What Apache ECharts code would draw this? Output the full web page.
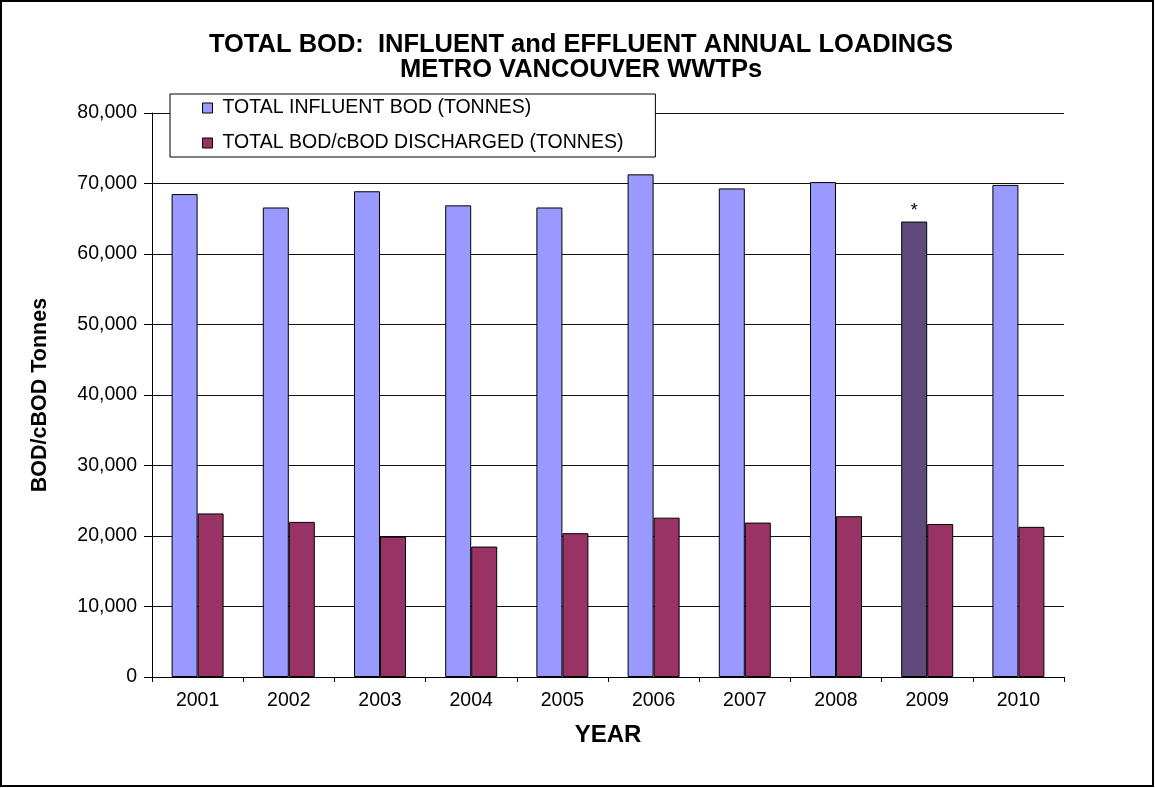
<!DOCTYPE html>
<html>
<head>
<meta charset="utf-8">
<title>Total BOD loadings</title>
<script src="https://cdn.jsdelivr.net/npm/echarts@6/dist/echarts.min.js"></script>
<style>
  html, body { margin: 0; padding: 0; background: #fff; }
  #chart { width: 1155px; height: 788px; }
</style>
</head>
<body>
<div id="chart"></div>
<script>
// values
var years = ['2001', '2002', '2003', '2004', '2005', '2006', '2007', '2008', '2009', '2010'];
var influent = [68500, 66600, 68900, 66900, 66600, 71300, 69300, 70200, 64600, 69800];
var discharged = [23200, 22000, 19900, 18500, 20400, 22600, 21900, 22800, 21700, 21300];
var flaggedYear = '2009';

var FONT = 'Liberation Sans, Arial, sans-serif';

var influentData = influent.map(function (v, i) {
  if (years[i] !== flaggedYear) return v;
  return {
    value: v,
    itemStyle: { color: '#604A7B' },
    label: { show: true, position: 'top', distance: 2, formatter: '*', fontSize: 18, color: '#000', fontFamily: FONT }
  };
});

var myChart = echarts.init(document.getElementById('chart'), null, { renderer: 'canvas' });

var option = {
  backgroundColor: '#fff',
  animation: false,
  title: {
    text: 'TOTAL BOD:  INFLUENT and EFFLUENT ANNUAL LOADINGS\nMETRO VANCOUVER WWTPs',
    left: 576,
    textAlign: 'center',
    top: 27,
    textStyle: { fontFamily: FONT, fontSize: 25.5, fontWeight: 'bold', color: '#000', lineHeight: 25 }
  },
  legend: {
    orient: 'vertical',
    left: 170,
    top: 94,
    padding: [4, 32, 4, 32],
    itemGap: 15,
    itemWidth: 10,
    itemHeight: 10,
    icon: 'rect',
    itemStyle: { borderColor: '#000', borderWidth: 1 },
    borderColor: '#000',
    borderWidth: 1,
    backgroundColor: '#fff',
    textStyle: { fontFamily: FONT, fontSize: 19.5, color: '#000', lineHeight: 20, padding: [0, 0, 0, 5] },
    data: ['TOTAL INFLUENT BOD (TONNES)', 'TOTAL BOD/cBOD DISCHARGED (TONNES)']
  },
  graphic: [{
    type: 'rect',
    shape: { x: 1, y: 1, width: 1152, height: 785 },
    style: { fill: 'none', stroke: '#000', lineWidth: 2 },
    silent: true
  }],
  grid: { left: 152, right: 91, top: 113, bottom: 111 },
  xAxis: {
    type: 'category',
    data: years,
    name: 'YEAR',
    nameLocation: 'middle',
    nameGap: 46,
    nameTextStyle: { fontFamily: FONT, fontSize: 24, fontWeight: 'bold', color: '#000' },
    axisLine: { lineStyle: { color: '#000', width: 1 } },
    axisTick: { show: true, length: 5, lineStyle: { color: '#000' } },
    axisLabel: { fontFamily: FONT, fontSize: 19.5, color: '#000', margin: 14 }
  },
  yAxis: {
    type: 'value',
    min: 0,
    max: 80000,
    interval: 10000,
    name: 'BOD/cBOD Tonnes',
    nameLocation: 'middle',
    nameGap: 101,
    nameTextStyle: { fontFamily: FONT, fontSize: 21.5, fontWeight: 'bold', color: '#000' },
    axisLine: { show: true, lineStyle: { color: '#000', width: 1 } },
    axisTick: { show: true, length: 8, lineStyle: { color: '#000' } },
    axisLabel: {
      fontFamily: FONT, fontSize: 19.5, color: '#000', margin: 15,
      formatter: function (v) { return v === 0 ? '0' : v.toLocaleString('en-US'); }
    },
    splitLine: { show: true, lineStyle: { color: '#111', width: 1 } }
  },
  series: [
    {
      name: 'TOTAL INFLUENT BOD (TONNES)',
      type: 'bar',
      barWidth: 26,
      barGap: '0%',
      data: influentData,
      itemStyle: { color: '#9999FF', borderColor: '#000', borderWidth: 1 }
    },
    {
      name: 'TOTAL BOD/cBOD DISCHARGED (TONNES)',
      type: 'bar',
      barWidth: 26,
      barGap: '0%',
      data: discharged,
      itemStyle: { color: '#993366', borderColor: '#000', borderWidth: 1 }
    }
  ]
};

if (option && typeof option === 'object') {
  myChart.setOption(option, true);
}
</script>
</body>
</html>
